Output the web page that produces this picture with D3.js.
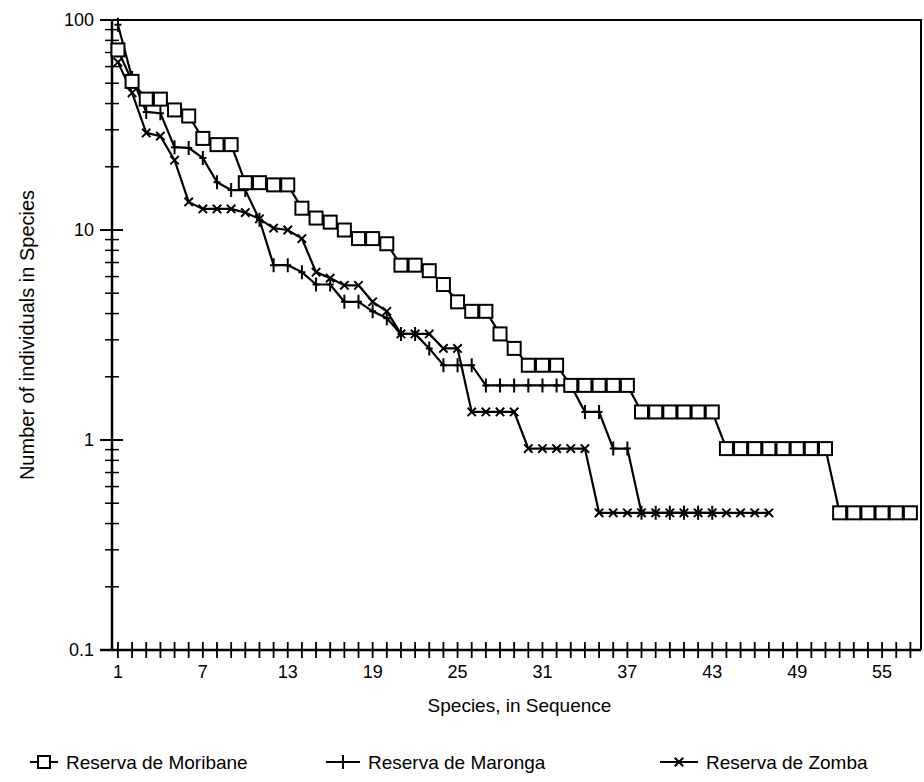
<!DOCTYPE html>
<html>
<head>
<meta charset="utf-8">
<script src="https://cdn.jsdelivr.net/npm/d3@7"></script>
<style>
  body { margin: 0; background: #fff; }
  svg text { font-family: "Liberation Sans", Arial, sans-serif; fill: #000; }
</style>
</head>
<body>
<div id="chart"></div>
<script>
// species rank -> individuals
const moribane = [72, 51, 42, 42, 37.3, 34.9, 27.3, 25.5, 25.5, 16.8, 16.8, 16.4, 16.4, 12.7, 11.4,
  10.9, 10, 9.1, 9.1, 8.6, 6.8, 6.8, 6.4, 5.5, 4.55, 4.1, 4.1, 3.2, 2.73, 2.27, 2.27, 2.27,
  1.82, 1.82, 1.82, 1.82, 1.82, 1.36, 1.36, 1.36, 1.36, 1.36, 1.36,
  0.91, 0.91, 0.91, 0.91, 0.91, 0.91, 0.91, 0.91, 0.45, 0.45, 0.45, 0.45, 0.45, 0.45];
const maronga = [95, 53, 36.5, 36, 24.8, 24.6, 22, 16.9, 15.5, 15.5, 11.2, 6.8, 6.8, 6.3, 5.5,
  5.5, 4.55, 4.55, 4.1, 3.8, 3.2, 3.2, 2.73, 2.27, 2.27, 2.27, 1.82, 1.82, 1.82, 1.82, 1.82,
  1.82, 1.82, 1.36, 1.36, 0.91, 0.91, 0.45, 0.45, 0.45, 0.45, 0.45, 0.45];
const zomba = [63, 45, 29, 28, 21.5, 13.6, 12.6, 12.6, 12.6, 12.1, 11.3, 10.2, 10, 9.1, 6.3,
  5.9, 5.45, 5.45, 4.55, 4.1, 3.2, 3.2, 3.2, 2.73, 2.73, 1.36, 1.36, 1.36, 1.36,
  0.91, 0.91, 0.91, 0.91, 0.91, 0.45, 0.45, 0.45, 0.45, 0.45, 0.45, 0.45, 0.45, 0.45, 0.45,
  0.45, 0.45, 0.45];

const seriesNames = ["Reserva de Moribane", "Reserva de Maronga", "Reserva de Zomba"];
const seriesShapes = ["square", "plus", "cross"];
const xTickLabels = [1, 7, 13, 19, 25, 31, 37, 43, 49, 55];
const yTickLabels = [0.1, 1, 10, 100];

const width = 924, height = 782;
const margin = { top: 20, right: 3, bottom: 132, left: 112 };

const svg = d3.select("#chart").append("svg")
  .attr("width", width)
  .attr("height", height);

const x = d3.scaleLinear()
  .domain([0.58, 57.75])
  .range([margin.left, width - margin.right]);

const y = d3.scaleLog()
  .domain([0.1, 100])
  .range([height - margin.bottom, margin.top]);

// frame: top and right borders
svg.append("path")
  .attr("d", `M${margin.left - 12},${y(100)}H${x.range()[1]}V${y(0.1)}`)
  .attr("fill", "none")
  .attr("stroke", "#000")
  .attr("stroke-width", 2);

// y axis, minor ticks on every 2..9 of each decade
const minorY = [];
[0.1, 1, 10].forEach((d) => {
  for (let k = 2; k <= 9; k++) minorY.push(+(d * k).toFixed(2));
});

const yAxis = svg.append("g")
  .attr("transform", `translate(${margin.left},0)`);

yAxis.append("line")
  .attr("y1", y(100)).attr("y2", y(0.1))
  .attr("stroke", "#000").attr("stroke-width", 2.5);

yAxis.selectAll(".minor")
  .data(minorY)
  .join("line")
  .attr("class", "minor")
  .attr("x1", -7).attr("x2", 7)
  .attr("y1", (d) => y(d)).attr("y2", (d) => y(d))
  .attr("stroke", "#000").attr("stroke-width", 1.5);

yAxis.selectAll(".major")
  .data(yTickLabels)
  .join("line")
  .attr("class", "major")
  .attr("x1", -12).attr("x2", (d) => (d === 0.1 || d === 100 ? 0 : 11))
  .attr("y1", (d) => y(d)).attr("y2", (d) => y(d))
  .attr("stroke", "#000").attr("stroke-width", 2);

yAxis.selectAll(".ylab")
  .data(yTickLabels)
  .join("text")
  .attr("class", "ylab")
  .attr("x", -18)
  .attr("y", (d) => y(d))
  .attr("dy", "0.35em")
  .attr("text-anchor", "end")
  .style("font-size", "18px")
  .text((d) => d);

// x axis, a tick at every species
const xAxis = svg.append("g")
  .attr("transform", `translate(0,${y(0.1)})`);

xAxis.append("line")
  .attr("x1", margin.left - 12).attr("x2", x.range()[1])
  .attr("stroke", "#000").attr("stroke-width", 2.5);

xAxis.selectAll(".xt")
  .data(d3.range(1, 58))
  .join("line")
  .attr("class", "xt")
  .attr("x1", (d) => x(d)).attr("x2", (d) => x(d))
  .attr("y1", -8).attr("y2", 8)
  .attr("stroke", "#000").attr("stroke-width", 1.8);

xAxis.selectAll(".xlab")
  .data(xTickLabels)
  .join("text")
  .attr("class", "xlab")
  .attr("x", (d) => x(d))
  .attr("y", 28)
  .attr("text-anchor", "middle")
  .style("font-size", "18px")
  .text((d) => d);

svg.append("text")
  .attr("x", (x.range()[0] + x.range()[1]) / 2 + 3)
  .attr("y", y(0.1) + 62)
  .attr("text-anchor", "middle")
  .style("font-size", "19px")
  .text("Species, in Sequence");

svg.append("text")
  .attr("transform", `translate(34,${(y(100) + y(0.1)) / 2}) rotate(-90)`)
  .attr("text-anchor", "middle")
  .style("font-size", "20px")
  .text("Number of individuals in Species");

// markers
function drawMarker(g, shape, size) {
  if (shape === "square") {
    g.append("rect")
      .attr("x", -size / 2).attr("y", -size / 2)
      .attr("width", size).attr("height", size)
      .attr("fill", "#fff").attr("stroke", "#000").attr("stroke-width", 2);
  } else if (shape === "plus") {
    g.append("path")
      .attr("d", `M0,${-size / 2}V${size / 2}M${-size / 4},0H${size / 4}`)
      .attr("stroke", "#000").attr("stroke-width", 2);
  } else {
    const s = size * 0.3;
    g.append("path")
      .attr("d", `M${-s},${-s}L${s},${s}M${-s},${s}L${s},${-s}`)
      .attr("stroke", "#000").attr("stroke-width", 2);
  }
}

const line = d3.line()
  .x((d, i) => x(i + 1))
  .y((d) => y(d));

const allSeries = [moribane, maronga, zomba];

// draw back to front: zomba, maronga, moribane
[2, 1, 0].forEach((si) => {
  const data = allSeries[si];
  const g = svg.append("g").attr("class", "series-" + si);

  g.append("path")
    .datum(data)
    .attr("d", line)
    .attr("fill", "none")
    .attr("stroke", "#000")
    .attr("stroke-width", 2.2);

  g.selectAll(".pt")
    .data(data)
    .join("g")
    .attr("class", "pt")
    .attr("transform", (d, i) => `translate(${x(i + 1)},${y(d)})`)
    .each(function () {
      drawMarker(d3.select(this), seriesShapes[si], si === 0 ? 13 : 14);
    });
});

// legend
const legendX = [30, 326, 660];
const legendLen = [28, 34, 38];
const legend = svg.append("g")
  .attr("transform", `translate(0,${height - 20})`);

seriesNames.forEach((name, i) => {
  const item = legend.append("g")
    .attr("transform", `translate(${legendX[i]},0)`);

  item.append("line")
    .attr("x1", 0).attr("x2", legendLen[i])
    .attr("stroke", "#000").attr("stroke-width", 2);

  drawMarker(item.append("g").attr("transform", `translate(${legendLen[i] / 2},0)`), seriesShapes[i], i === 0 ? 12 : 14);

  item.append("text")
    .attr("x", legendLen[i] + 8)
    .attr("dy", "0.35em")
    .style("font-size", "19px")
    .text(name);
});
</script>
</body>
</html>
